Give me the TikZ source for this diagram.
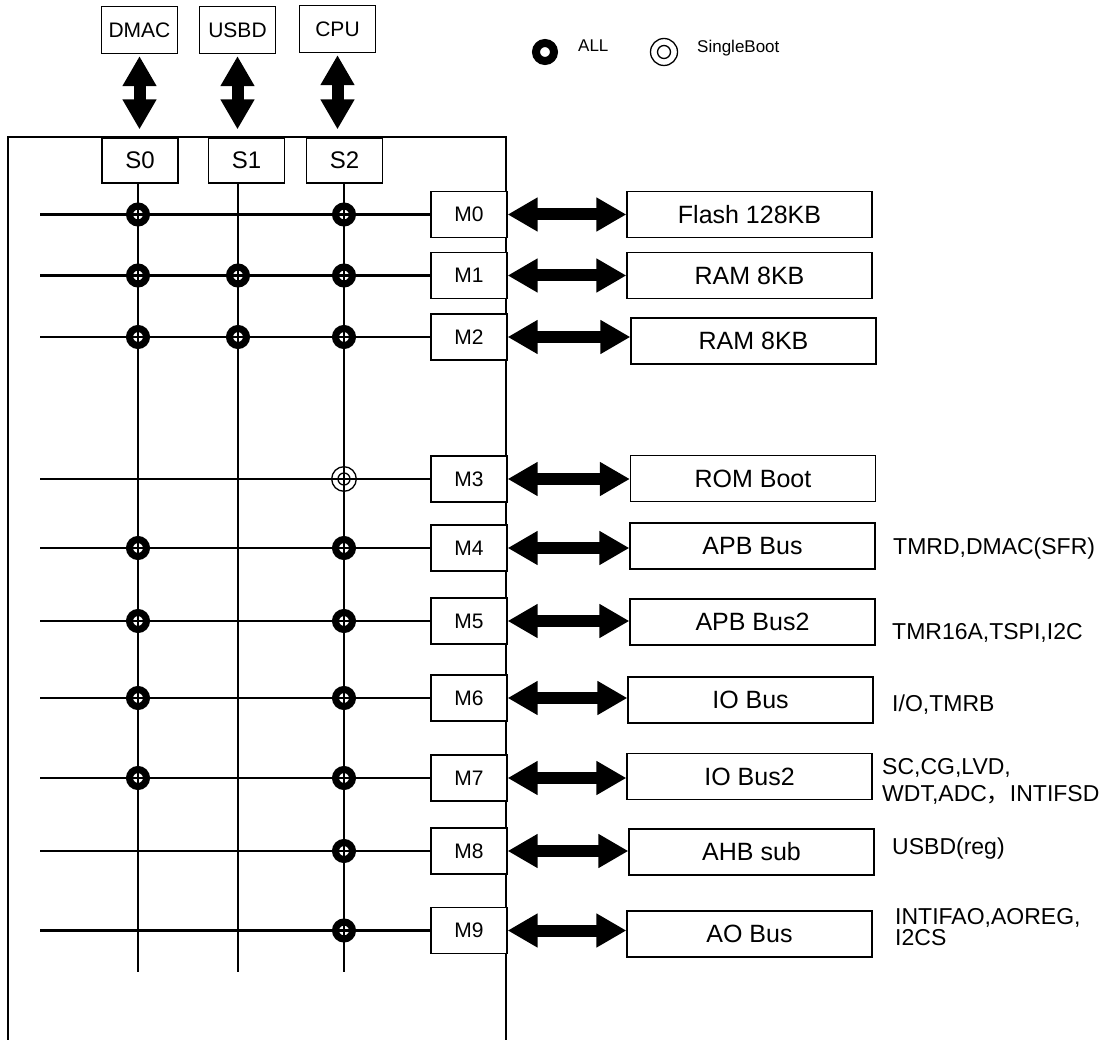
\documentclass[tikz,border=0pt]{standalone}
\usepackage{fontspec}
\setmainfont{Liberation Sans}
\newfontfamily\cjkfont{Noto Sans CJK SC}
\usetikzlibrary{positioning,arrows.meta,calc}

\begin{document}
\begin{tikzpicture}[
  x=1pt,y=-1pt,
  dev/.style={rectangle,draw,line width=1.2pt,minimum width=76pt,minimum height=47pt,inner sep=0pt,font=\fontsize{21pt}{25pt}\selectfont},
  port/.style={rectangle,draw,fill=white,line width=1.2pt,minimum width=76pt,minimum height=46pt,inner sep=0pt,font=\fontsize{21pt}{25pt}\selectfont},
  slv/.style={port,minimum height=45pt,font=\fontsize{24pt}{28pt}\selectfont},
  mem/.style={rectangle,draw,line width=1.2pt,minimum width=245pt,minimum height=46pt,inner sep=0pt,font=\fontsize{25pt}{30pt}\selectfont},
  note/.style={anchor=west,align=left,inner sep=0pt,font=\fontsize{23pt}{27pt}\selectfont},
  key/.style={anchor=west,inner sep=0pt,font=\fontsize{17pt}{20pt}\selectfont},
  wire/.style={line width=2.7pt},
  bus/.style={line width=12pt,{Triangle[length=30pt,width=32pt]}-{Triangle[length=30pt,width=32pt]}},
  allsw/.style={circle,draw,line width=7pt,minimum size=17pt,inner sep=0pt},
  bootsw/.style={circle,draw,line width=1.3pt,minimum size=24.6pt,inner sep=0pt},
]
\useasboundingbox (0,0) rectangle (1110,1040);

% Bus masters
\node[dev] (DMAC) at (139.5,30) {DMAC};
\node[dev] (USBD) at (237.5,30) {USBD};
\node[dev] (CPU)  at (337.5,29) {CPU};

% Matrix frame
\draw[line width=1.2pt] (8,1041) -- (8,137) -- (506,137) -- (506,1041);

% Slave ports
\node[slv] (S0) at (140,160.5)   {S0};
\node[slv] (S1) at (246.5,160.5) {S1};
\node[slv] (S2) at (344.5,160.5) {S2};

% Master ports
\node[port] (M0) at (469,214.5) {M0};
\node[port] (M1) at (469,275.5) {M1};
\node[port] (M2) at (469,337)   {M2};
\node[port] (M3) at (469,479)   {M3};
\node[port] (M4) at (469,548)   {M4};
\node[port] (M5) at (469,621)   {M5};
\node[port] (M6) at (469,698)   {M6};
\node[port] (M7) at (469,778)   {M7};
\node[port] (M8) at (469,851)   {M8};
\node[port] (M9) at (469,930.5) {M9};

% Targets
\node[mem] (flash) at (749.5,214.5) {Flash 128KB};
\node[mem] (ramA)  at (749.5,275.5) {RAM 8KB};
\node[mem] (ramB)  at (753.5,341)   {RAM 8KB};
\node[mem] (rom)   at (753,478.5)   {ROM Boot};
\node[mem] (apb)   at (752.5,546)   {APB Bus};
\node[mem] (apbb)  at (752.5,622)   {APB Bus2};
\node[mem] (io)    at (750.5,700)   {IO Bus};
\node[mem] (iob)   at (749.5,776.5) {IO Bus2};
\node[mem] (ahb)   at (751.5,852)   {AHB sub};
\node[mem] (ao)    at (749.5,934)   {AO Bus};

% Peripheral notes
\node[note] (napb)  at (893,549) {TMRD,DMAC(SFR)};
\node[note] (napbb) at (892,633) {TMR16A,TSPI,I2C};
\node[note] (nio)   at (892,705) {I/O,TMRB};
\node[note] (niob)  at (882,781) {SC,CG,LVD,\\WDT,ADC{\cjkfont ，}INTIFSD};
\node[note] (nahb)  at (892,849) {USBD(reg)};
\node[note,font=\fontsize{23pt}{21pt}\selectfont] (nao) at (895,927) {INTIFAO,AOREG,\\I2CS};

% Master links
\draw[bus,shorten <=2pt,shorten >=8pt] (DMAC.south) -- (DMAC.south |- S0.north);
\draw[bus,shorten <=2pt,shorten >=8pt] (USBD.south) -- (USBD.south |- S1.north);
\draw[bus,shorten <=2pt,shorten >=8pt] (CPU.south) -- (CPU.south |- S2.north);

% Target links
\draw[bus] (M0.east) -- (M0.east -| flash.west);
\draw[bus] (M1.east) -- (M1.east -| ramA.west);
\draw[bus] (M2.east) -- (M2.east -| ramB.west);
\draw[bus] (M3.east) -- (M3.east -| rom.west);
\draw[bus] (M4.east) -- (M4.east -| apb.west);
\draw[bus] (M5.east) -- (M5.east -| apbb.west);
\draw[bus] (M6.east) -- (M6.east -| io.west);
\draw[bus] (M7.east) -- (M7.east -| iob.west);
\draw[bus] (M8.east) -- (M8.east -| ahb.west);
\draw[bus] (M9.east) -- (M9.east -| ao.west);

% Crossbar lines
\coordinate (L)  at (40,0);
\coordinate (c0) at (138,972);
\coordinate (c1) at (238,972);
\coordinate (c2) at (344,972);
\draw[wire] (c0 |- S0.south) -- (c0);
\draw[wire] (c1 |- S1.south) -- (c1);
\draw[wire] (c2 |- S2.south) -- (c2);
\draw[wire] (L |- M0.west) -- (M0.west);
\draw[wire] (L |- M1.west) -- (M1.west);
\draw[wire] (L |- M2.west) -- (M2.west);
\draw[wire] (L |- M3.west) -- (M3.west);
\draw[wire] (L |- M4.west) -- (M4.west);
\draw[wire] (L |- M5.west) -- (M5.west);
\draw[wire] (L |- M6.west) -- (M6.west);
\draw[wire] (L |- M7.west) -- (M7.west);
\draw[wire] (L |- M8.west) -- (M8.west);
\draw[wire] (L |- M9.west) -- (M9.west);

% Connections
\node[allsw] (j00) at (c0 |- M0) {};
\node[allsw] (j02) at (c2 |- M0) {};
\node[allsw] (j10) at (c0 |- M1) {};
\node[allsw] (j11) at (c1 |- M1) {};
\node[allsw] (j12) at (c2 |- M1) {};
\node[allsw] (j20) at (c0 |- M2) {};
\node[allsw] (j21) at (c1 |- M2) {};
\node[allsw] (j22) at (c2 |- M2) {};
\node[bootsw] (j32) at (c2 |- M3) {};
\draw[line width=1.3pt] (j32.center) circle (6pt);
\node[allsw] (j40) at (c0 |- M4) {};
\node[allsw] (j42) at (c2 |- M4) {};
\node[allsw] (j50) at (c0 |- M5) {};
\node[allsw] (j52) at (c2 |- M5) {};
\node[allsw] (j60) at (c0 |- M6) {};
\node[allsw] (j62) at (c2 |- M6) {};
\node[allsw] (j70) at (c0 |- M7) {};
\node[allsw] (j72) at (c2 |- M7) {};
\node[allsw] (j82) at (c2 |- M8) {};
\node[allsw] (j92) at (c2 |- M9) {};

% Legend
\node[allsw,line width=8pt,minimum size=18pt] (kall) at (545,52) {};
\node[key] (tall) at (578,46) {ALL};
\node[bootsw,minimum size=27pt] (kboot) at (664,52) {};
\draw[line width=1.3pt] (kboot.center) circle (6.5pt);
\node[key] (tboot) at (697,48) {SingleBoot};

\end{tikzpicture}
\end{document}
